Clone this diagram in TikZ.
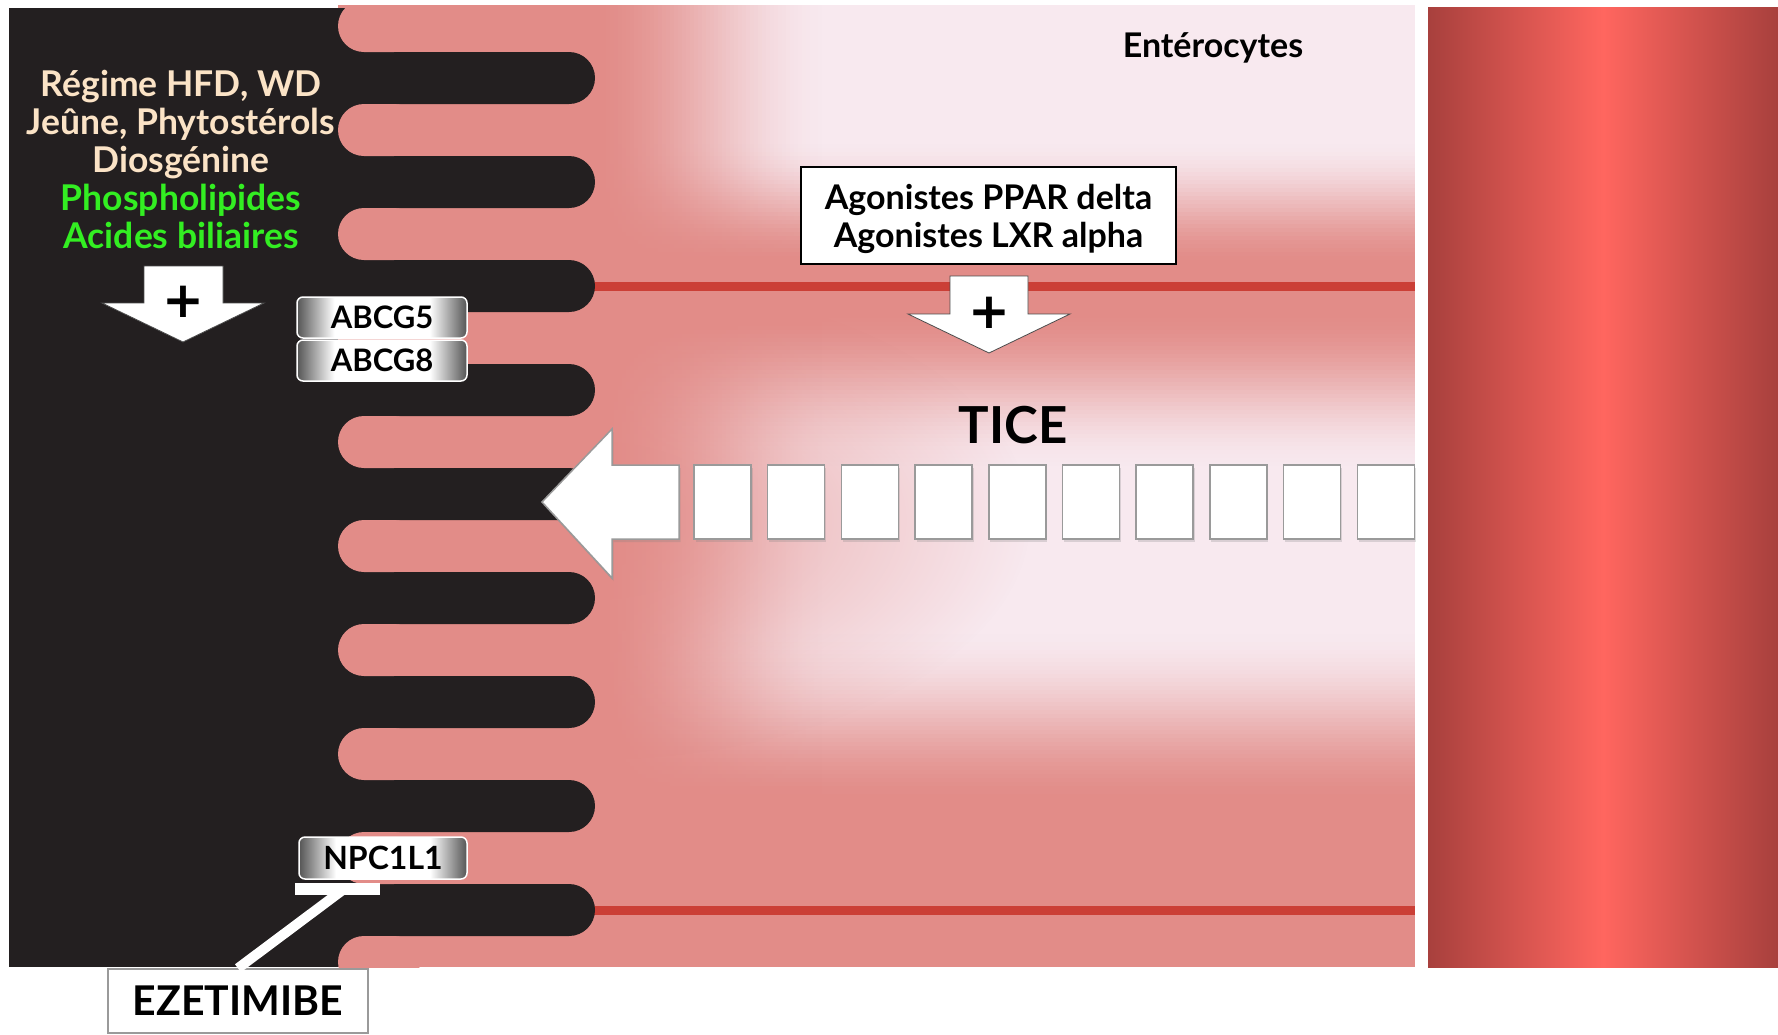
\documentclass[tikz,border=0pt]{standalone}
\usepackage{fontspec}
\setmainfont{Lato}
\newfontfamily\plusfont{DejaVu Sans}
\usetikzlibrary{fadings,shadows,calc}

\definecolor{lumen}{HTML}{231F20}
\definecolor{salmon}{HTML}{E28C88}
\definecolor{blush}{HTML}{F8E9EF}
\definecolor{redline}{HTML}{CB3F36}
\definecolor{vesseldark}{HTML}{A8403D}
\definecolor{vessellight}{HTML}{FF665F}
\definecolor{cream}{HTML}{FBE3C6}
\definecolor{lime}{HTML}{33EE22}
\definecolor{steel}{HTML}{555555}
\definecolor{rim}{HTML}{9A9A9A}

% soft round glow in the middle of the cytoplasm
\begin{tikzfadingfrompicture}[name=ramp round]
  \fill[transparent!100] (-50bp,-50bp) rectangle (50bp,50bp);
  \shade[inner color=transparent!0, outer color=transparent!100] (-25bp,-25bp) rectangle (25bp,25bp);
\end{tikzfadingfrompicture}

% brushed-metal look of the transporter tags
\pgfdeclarehorizontalshading{metal}{100bp}{color(0bp)=(steel); color(25bp)=(steel);
  color(36bp)=(white); color(64bp)=(white); color(75bp)=(steel); color(100bp)=(steel)}

\tikzset{
  bold/.style={font=\bfseries\fontsize{#1}{#1}\selectfont},
  tag/.style={draw=white, line width=1.5, rounded corners=6, shade, shading=metal,
    minimum width=170, minimum height=41, inner sep=0, bold=31},
  plainbox/.style={fill=white, inner sep=0},
  blockarrow/.style={fill=white, draw=black!70, line width=0.8},
  plussign/.style={font=\plusfont\bfseries\fontsize{50}{50}\selectfont, inner sep=0},
  ticebox/.style={fill=white, draw=rim, line width=1.5, minimum width=57, minimum height=74,
    inner sep=0, drop shadow={shadow xshift=1.5pt, shadow yshift=-3pt, opacity=0.25}},
  inhibit/.style={draw=white},
}

% smooth salmon ramps built from thin strips:
% \hramp{x0}{y0}{y1}{n}  fades out to the right over n strips of 4pt
% \vramp{y0}{n}{dir}     fades in (dir=1) or out (dir=-1) downwards over n strips of 4pt
\newcommand{\hramp}[4]{%
  \foreach \k in {1,...,#4}{%
    \pgfmathsetmacro\tt{(\k-0.5)/#4}%
    \pgfmathsetmacro\op{1-\tt*\tt*(3-2*\tt)}%
    \fill[salmon, opacity=\op] ({#1+4*(\k-1)},#2) rectangle ({#1+4*\k},#3);}}
\newcommand{\vramp}[3]{%
  \foreach \k in {1,...,#2}{%
    \pgfmathsetmacro\tt{(\k-0.5)/#2}%
    \pgfmathsetmacro\op{#3>0 ? \tt*\tt*(3-2*\tt) : 1-\tt*\tt*(3-2*\tt)}%
    \fill[salmon, opacity=\op] (338,{#1+4*(\k-1)}) rectangle (1415,{#1+4*\k});}}

\begin{document}
\begin{tikzpicture}[x=1pt,y=-1pt]
\useasboundingbox[fill=white] (0,0) rectangle (1778,1034);

% cytoplasm of the enterocytes
\begin{scope}
  \clip (338,5) rectangle (1415,967);
  \fill[blush] (338,5) rectangle (1415,967);
  \vramp{140}{32}{1}
  \fill[salmon] (338,268) rectangle (1415,310);
  \vramp{310}{40}{-1}
  \vramp{630}{44}{1}
  \fill[salmon] (338,806) rectangle (1415,967);
  \fill[salmon] (338,5) rectangle (590,967);
  \hramp{590}{5}{967}{60}
  \begin{scope}
    \clip (590,5) rectangle (1415,967);
    \fill[salmon, path fading=ramp round, opacity=0.75] (590,520) ellipse [x radius=440, y radius=240];
  \end{scope}
\end{scope}

% cell junction lines
\draw[redline, line width=9] (590,286) -- (1415,286);
\draw[redline, line width=9] (590,910) -- (1415,910);

% lymph / blood vessel
\shade[left color=vesseldark, right color=vesseldark, middle color=vessellight]
  (1428,7) rectangle (1778,967);

% intestinal lumen and brush border
\begin{scope}
  \clip (0,5) rectangle (1420,967);
  \fill[lumen] (9,8) rectangle (364,967);
  \foreach \c in {78,182,...,910}
    \fill[lumen, rounded corners=26] (300,\c-26) rectangle (595,\c+26);
  \foreach \c in {26,130,...,962}
    \fill[salmon, rounded corners=26] (338,\c-26) rectangle (420,\c+26);
\end{scope}

% inducers in the lumen
\node[align=center, font=\bfseries\fontsize{35.5}{35.5}\selectfont, inner sep=0] (diet) at (181,159) {%
  \textcolor{cream}{Régime HFD, WD}\\[2.5pt]
  \textcolor{cream}{Jeûne, Phytostérols}\\[2.5pt]
  \textcolor{cream}{Diosgénine}\\[2.5pt]
  \textcolor{lime}{Phospholipides}\\[2.5pt]
  \textcolor{lime}{Acides biliaires}};

\draw[blockarrow] (144,266) -- (223,266) -- (223,303) -- (264,303) -- (183,342)
  -- (102,303) -- (144,303) -- cycle;
\node[plussign] (plusL) at (183,302) {+};

% transporters
\node[tag] (abcg5) at (382,317.5) {ABCG5};
\node[tag] (abcg8) at (382,360.5) {ABCG8};
\node[tag, minimum width=168, minimum height=42, bold=32] (npc) at (383,858) {NPC1L1};

% ezetimibe inhibition
\node[plainbox, draw=rim, line width=1.5, minimum width=260, minimum height=64, bold=41]
  (ezet) at (238,1001) {EZETIMIBE};
\coordinate (inhib) at (344,889);
\draw[inhibit, line width=12] ($(inhib)+(-49,0)$) -- ($(inhib)+(36,0)$);
\draw[inhibit, line width=10] (ezet.north) -- (inhib);

% enterocyte side
\node[bold=34, inner sep=0] (entero) at (1213,48) {Entérocytes};

\node[plainbox, draw=black, line width=2, minimum width=375, minimum height=97] (agon) at (988.5,215.5) {};
\node[align=center, font=\bfseries\fontsize{34}{38}\selectfont, inner sep=0] (agontext)
  at ([yshift=-3.5pt]agon.center) {Agonistes PPAR delta\\Agonistes LXR alpha};

\draw[blockarrow] (950,276) -- (1028,276) -- (1028,314) -- (1070,314) -- (989,353)
  -- (908,314) -- (950,314) -- cycle;
\node[plussign] (plusR) at (989,313) {+};

% trans-intestinal cholesterol excretion
\node[bold=51, inner sep=0] (tice) at (1013,425) {TICE};
\draw[fill=white, draw=rim, line width=1.5,
  drop shadow={shadow xshift=1.5pt, shadow yshift=-3pt, opacity=0.25}]
  (542,502) -- (612,429) -- (612,465) -- (679,465) -- (679,539) -- (612,539)
  -- (612,578) -- cycle;
\foreach \i in {0,...,9}
  \node[ticebox] (step\i) at (722.5+73.7*\i,502) {};
\end{tikzpicture}
\end{document}
